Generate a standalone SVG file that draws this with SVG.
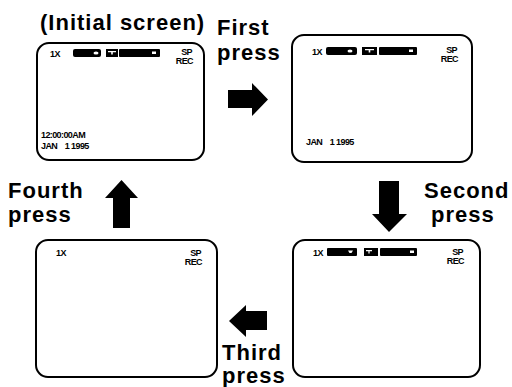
<svg xmlns="http://www.w3.org/2000/svg" width="512" height="387" viewBox="0 0 512 387">
<defs>
<style>
.lbl{font-family:"Liberation Sans",Arial,sans-serif;font-weight:bold;font-size:22px;letter-spacing:1px;fill:#000}
.scr{fill:#fff;stroke:#000;stroke-width:2}
.sm{font-family:"Liberation Sans",Arial,sans-serif;font-weight:bold;font-size:9px;fill:#000;letter-spacing:-0.6px}
.bar{fill:#000}
.wh{fill:#fff}
.arr{fill:#000}
</style>
</defs>
<rect width="512" height="387" fill="#fff"/>

<g id="label-initial"><text class="lbl" x="40" y="30">(Initial screen)</text></g>

<g id="screen1">
<rect class="scr" x="37" y="43" width="167" height="117" rx="12"/>
<text class="sm" x="50" y="57">1X</text>
<rect class="bar" x="73" y="49" width="28" height="8" rx="2"/>
<ellipse class="wh" cx="96" cy="53" rx="2.5" ry="1.5"/>
<rect class="bar" x="106" y="49" width="12" height="8"/>
<path class="wh" d="M108 51h8v1.2h-3.2v2.3h-1.6v-2.3h-3.2z"/>
<rect class="bar" x="119" y="49" width="41" height="8" rx="1"/>
<rect class="wh" x="152" y="51.5" width="4" height="2.5"/>
<text class="sm" x="192" y="55" text-anchor="end">SP</text>
<text class="sm" x="193" y="64" text-anchor="end">REC</text>
<text class="sm" x="41" y="138">12:00:00AM</text>
<text class="sm" x="41" y="149" xml:space="preserve">JAN    1 1995</text>
</g>

<g id="screen2">
<rect class="scr" x="292" y="35" width="180" height="127" rx="12"/>
<text class="sm" x="312" y="55">1X</text>
<rect class="bar" x="326" y="47" width="31" height="8" rx="2"/>
<ellipse class="wh" cx="350" cy="51" rx="2.5" ry="1.5"/>
<rect class="bar" x="362" y="47" width="15" height="8"/>
<path class="wh" d="M365 49h9v1.2h-3.7v2.3h-1.6v-2.3h-3.7z"/>
<rect class="bar" x="379" y="47" width="38" height="8" rx="1"/>
<rect class="wh" x="409" y="49.5" width="4" height="2.5"/>
<text class="sm" x="457" y="53" text-anchor="end">SP</text>
<text class="sm" x="458" y="62" text-anchor="end">REC</text>
<text class="sm" x="306" y="145" xml:space="preserve">JAN    1 1995</text>
</g>

<g id="screen3">
<rect class="scr" x="36" y="240" width="181" height="137" rx="12"/>
<text class="sm" x="56" y="256">1X</text>
<text class="sm" x="201" y="256" text-anchor="end">SP</text>
<text class="sm" x="202" y="265" text-anchor="end">REC</text>
</g>

<g id="screen4">
<rect class="scr" x="293" y="240" width="187" height="137" rx="12"/>
<text class="sm" x="313" y="256">1X</text>
<rect class="bar" x="327" y="248" width="30" height="8" rx="1"/>
<path class="wh" d="M348 250.5h5l-1.5 2.5h-2z"/>
<rect class="bar" x="364" y="248" width="14" height="8"/>
<path class="wh" d="M366 250h6v1.2h-2.4v2.3h-1.2v-2.3h-2.4z"/>
<rect class="bar" x="380" y="248" width="37" height="8" rx="1"/>
<rect class="wh" x="410" y="250.5" width="4" height="2.5"/>
<text class="sm" x="463" y="255" text-anchor="end">SP</text>
<text class="sm" x="464" y="264" text-anchor="end">REC</text>
</g>

<g id="label-first"><text class="lbl" x="217" y="35">First</text><text class="lbl" x="217" y="60">press</text></g>
<g id="label-second"><text class="lbl" x="424" y="198">Second</text><text class="lbl" x="431" y="222">press</text></g>
<g id="label-third"><text class="lbl" x="222" y="360">Third</text><text class="lbl" x="222" y="383">press</text></g>
<g id="label-fourth"><text class="lbl" x="8" y="198">Fourth</text><text class="lbl" x="8" y="222">press</text></g>

<g id="connectors">
<polygon class="arr" points="228,90 252,90 252,83 268,99.5 252,116 252,108 228,108"/>
<polygon class="arr" points="379,181 399,181 399,214 407,214 389,232 372,214 379,214"/>
<polygon class="arr" points="267,311 246,311 246,305 229,321 246,337 246,330 267,330"/>
<polygon class="arr" points="113,228 113,198 105,198 121.5,180 138,198 130,198 130,228"/>
</g>
</svg>
